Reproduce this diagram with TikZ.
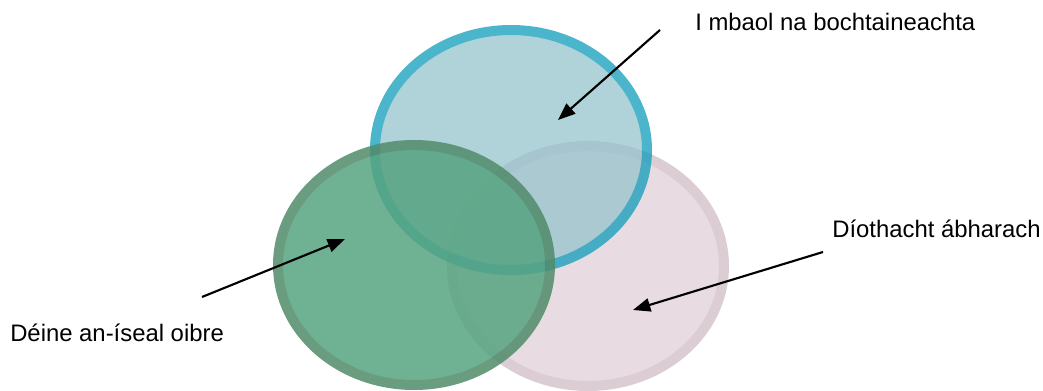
\documentclass[tikz,border=0pt]{standalone}
\usepackage{fontspec}
\setmainfont{Liberation Sans}
\usetikzlibrary{arrows.meta}
\definecolor{bluefill}{RGB}{150,195,204}
\definecolor{blueline}{RGB}{15,156,187}
\definecolor{pinkfill}{RGB}{232,220,226}
\definecolor{pinkline}{RGB}{220,205,212}
\definecolor{greenfill}{RGB}{86,163,128}
\definecolor{greenline}{RGB}{80,139,106}
\tikzset{
  ring/.style={line width=7.5pt},
  label/.style={anchor=west, inner sep=0pt, font=\fontsize{17.9}{20}\selectfont},
  pointer/.style={line width=1.6pt, -{Triangle[length=13pt,width=10pt]}}
}
\begin{document}
\begin{tikzpicture}[x=0.75pt,y=-0.75pt]
\useasboundingbox (0,0) rectangle (1043,391);
% pink
\draw[ring, draw=pinkline, fill=pinkfill] (588,266) ellipse [x radius=102pt, y radius=90pt];
% blue
\begin{scope}[transparency group, opacity=0.75]
\draw[ring, draw=blueline, fill=bluefill] (511,150) ellipse [x radius=102pt, y radius=90pt];
\end{scope}
% green
\begin{scope}[transparency group, opacity=0.85]
\draw[ring, draw=greenline, fill=greenfill] (414,265) ellipse [x radius=102pt, y radius=90pt];
\end{scope}
\node[label] (t1) at (695,22) {I mbaol na bochtaineachta};
\node[label] (t2) at (832,229) {Díothacht ábharach};
\node[label] (t3) at (10,333) {Déine an-íseal oibre};
\coordinate (a1s) at (660,30);
\coordinate (a1e) at (558,120);
\coordinate (a2s) at (823,252);
\coordinate (a2e) at (633,310);
\coordinate (a3s) at (202,297);
\coordinate (a3e) at (345,239);
\draw[pointer] (a1s) -- (a1e);
\draw[pointer] (a2s) -- (a2e);
\draw[pointer] (a3s) -- (a3e);
\end{tikzpicture}
\end{document}
